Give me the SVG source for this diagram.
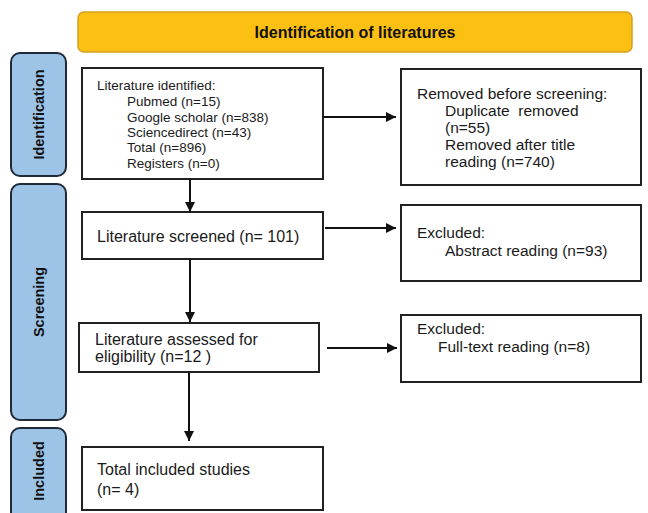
<svg xmlns="http://www.w3.org/2000/svg" width="648" height="513" viewBox="0 0 648 513">
<defs>
<style>
.box{fill:#fff;stroke:#222;stroke-width:2}
.side{fill:#9DC3E6;stroke:#1f2a38;stroke-width:2}
.banner{fill:#FCC012;stroke:#D4A022;stroke-width:1.5}
.t{font-family:"Liberation Sans",Arial,sans-serif;fill:#1a1a1a}
.s{font-size:13.5px}
.m{font-size:15.5px}
.l{font-size:16px}
.b{font-family:"Liberation Sans",Arial,sans-serif;font-weight:bold;fill:#111}
.c{stroke:#111;stroke-width:2;fill:none}
</style>
<marker id="ah" viewBox="0 0 10 10" refX="10" refY="5" markerWidth="5" markerHeight="5" markerUnits="strokeWidth" orient="auto">
<path d="M0,0 L10,5 L0,10 z" fill="#111"/>
</marker>
</defs>
<rect width="648" height="513" fill="#fff"/>
<g id="banner">
<rect class="banner" x="78" y="12" width="554" height="40" rx="6"/>
<text class="b" x="355" y="38" font-size="16" text-anchor="middle">Identification of literatures</text>
</g>
<g id="phase-identification">
<rect class="side" x="11" y="53" width="55" height="123" rx="9"/>
<text class="b" font-size="14.5" text-anchor="middle" transform="translate(43.5,114.5) rotate(-90)">Identification</text>
</g>
<g id="phase-screening">
<rect class="side" x="11" y="184" width="55" height="236" rx="9"/>
<text class="b" font-size="14.5" text-anchor="middle" transform="translate(43.5,302) rotate(-90)">Screening</text>
</g>
<g id="phase-included">
<rect class="side" x="11" y="428" width="55" height="100" rx="9"/>
<text class="b" font-size="14.5" text-anchor="middle" transform="translate(43.5,471) rotate(-90)">Included</text>
</g>
<g id="identified">
<rect class="box" x="82" y="68" width="241" height="111"/>
<text class="t s" x="97" y="90">Literature identified:</text>
<text class="t s" x="127" y="106">Pubmed (n=15)</text>
<text class="t s" x="127" y="122">Google scholar (n=838)</text>
<text class="t s" x="127" y="137">Sciencedirect (n=43)</text>
<text class="t s" x="127" y="152">Total (n=896)</text>
<text class="t s" x="127" y="168">Registers (n=0)</text>
</g>
<g id="removed">
<rect class="box" x="401" y="69" width="240" height="116"/>
<text class="t m" x="417" y="99">Removed before screening:</text>
<text class="t m" x="445" y="116" xml:space="preserve">Duplicate  removed</text>
<text class="t m" x="445" y="133">(n=55)</text>
<text class="t m" x="445" y="150">Removed after title</text>
<text class="t m" x="445" y="167">reading (n=740)</text>
</g>
<g id="screened">
<rect class="box" x="82" y="212" width="241" height="47"/>
<text class="t l" x="97" y="242">Literature screened (n= 101)</text>
</g>
<g id="excluded1">
<rect class="box" x="401" y="205" width="240" height="76"/>
<text class="t m" x="417" y="238">Excluded:</text>
<text class="t m" x="445" y="256">Abstract reading (n=93)</text>
</g>
<g id="assessed">
<rect class="box" x="79" y="323" width="240" height="49"/>
<text class="t l" x="95" y="345">Literature assessed for</text>
<text class="t l" x="95" y="362">eligibility (n=12 )</text>
</g>
<g id="excluded2">
<rect class="box" x="401" y="315" width="240" height="67"/>
<text class="t m" x="417" y="334">Excluded:</text>
<text class="t m" x="438" y="352">Full-text reading (n=8)</text>
</g>
<g id="included">
<rect class="box" x="82" y="447" width="241" height="63"/>
<text class="t l" x="97" y="475">Total included studies</text>
<text class="t l" x="97" y="495">(n= 4)</text>
</g>
<g id="connectors">
<line class="c" x1="323" y1="117" x2="396" y2="117" marker-end="url(#ah)"/>
<line class="c" x1="190" y1="179" x2="190" y2="212" marker-end="url(#ah)"/>
<line class="c" x1="325" y1="228" x2="396" y2="228" marker-end="url(#ah)"/>
<line class="c" x1="190" y1="259" x2="190" y2="322" marker-end="url(#ah)"/>
<line class="c" x1="327" y1="348" x2="397" y2="348" marker-end="url(#ah)"/>
<line class="c" x1="189" y1="372" x2="189" y2="441" marker-end="url(#ah)"/>
</g>
</svg>
